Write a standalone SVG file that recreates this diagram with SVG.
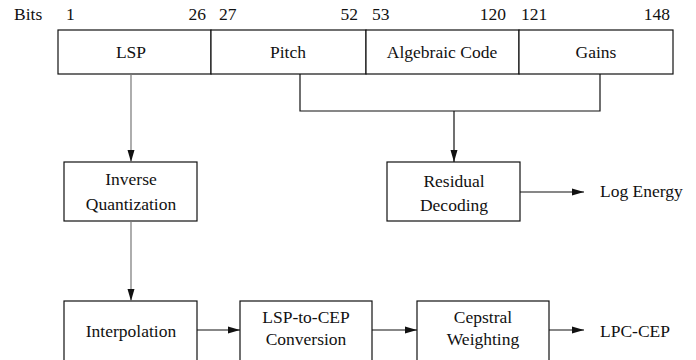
<svg xmlns="http://www.w3.org/2000/svg" width="696" height="360" viewBox="0 0 696 360">
<style>
text{font-family:"Liberation Serif","Times New Roman",serif;font-size:17.5px;fill:#111}
.c{text-anchor:middle}
.box{fill:#fff;stroke:#111;stroke-width:1.2}
.ln{fill:none;stroke:#111;stroke-width:1.2}
.lg{fill:none;stroke:#777;stroke-width:1.2}
</style>
<defs>
<marker id="ah" viewBox="0 0 12 8" refX="12" refY="4" markerWidth="12" markerHeight="8" markerUnits="userSpaceOnUse" orient="auto">
<path d="M0,0.5 L12,4 L0,7.5 Z" fill="#111"/>
</marker>
</defs>
<rect width="696" height="360" fill="#fff"/>
<g id="bits">
<text x="14" y="20">Bits</text>
<text x="66" y="20">1</text>
<text x="206" y="20" text-anchor="end">26</text>
<text x="219" y="20">27</text>
<text x="358" y="20" text-anchor="end">52</text>
<text x="372" y="20">53</text>
<text x="506" y="20" text-anchor="end">120</text>
<text x="521" y="20">121</text>
<text x="670" y="20" text-anchor="end">148</text>
</g>
<g id="frame">
<g id="lsp"><rect class="box" x="58" y="30" width="153" height="44"/><text class="c" x="131" y="58">LSP</text></g>
<g id="pitch"><rect class="box" x="211" y="30" width="155" height="44"/><text class="c" x="288" y="58">Pitch</text></g>
<g id="algebraic"><rect class="box" x="366" y="30" width="153" height="44"/><text class="c" x="442" y="58">Algebraic Code</text></g>
<g id="gains"><rect class="box" x="519" y="30" width="154" height="44"/><text class="c" x="596" y="58">Gains</text></g>
</g>
<g id="invq"><rect class="box" x="64" y="162" width="133" height="59"/><text class="c" x="131" y="185">Inverse</text><text class="c" x="131" y="210">Quantization</text></g>
<g id="resid"><rect class="box" x="387" y="162" width="133" height="59"/><text class="c" x="454" y="187">Residual</text><text class="c" x="454" y="211">Decoding</text></g>
<g id="interp"><rect class="box" x="64" y="301" width="133" height="64"/><text class="c" x="131" y="337">Interpolation</text></g>
<g id="lsp2cep"><rect class="box" x="240" y="301" width="132" height="64"/><text class="c" x="306" y="323">LSP-to-CEP</text><text class="c" x="306" y="345">Conversion</text></g>
<g id="cepw"><rect class="box" x="417" y="301" width="132" height="64"/><text class="c" x="483" y="323">Cepstral</text><text class="c" x="483" y="345">Weighting</text></g>
<g id="logE"><text x="600" y="197">Log Energy</text></g>
<g id="lpccep"><text x="600" y="337">LPC-CEP</text></g>
<g id="connectors">
<path class="lg" d="M131,74 V162" marker-end="url(#ah)"/>
<path class="lg" d="M131,221 V301" marker-end="url(#ah)"/>
<path class="ln" d="M300,74 V111 H600 V74"/>
<path class="ln" d="M454,111 V162" marker-end="url(#ah)"/>
<path class="ln" d="M520,192 H584" marker-end="url(#ah)"/>
<path class="ln" d="M197,330 H240" marker-end="url(#ah)"/>
<path class="ln" d="M372,330 H417" marker-end="url(#ah)"/>
<path class="ln" d="M549,330 H584" marker-end="url(#ah)"/>
</g>
</svg>
